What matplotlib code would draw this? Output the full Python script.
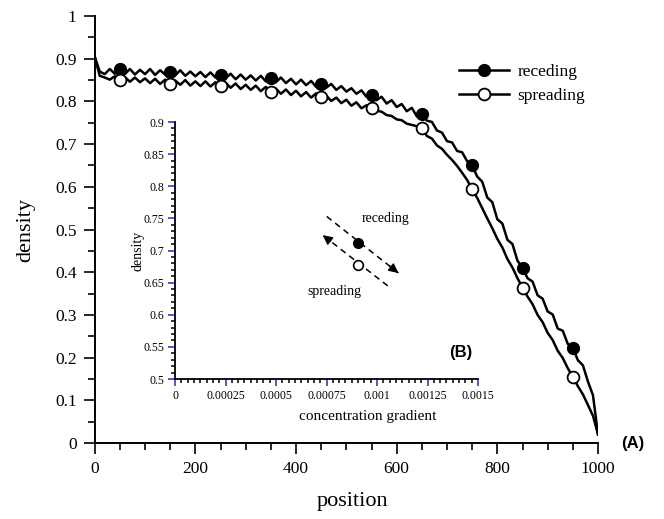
import numpy as np
import matplotlib
matplotlib.use("Agg")
import matplotlib.pyplot as plt
from matplotlib.ticker import MultipleLocator, FixedLocator

plt.rcParams['font.family'] = ['Liberation Serif', 'DejaVu Serif']

# main panel: density profiles, sampled every 10 position units
position = list(range(0, 1001, 10))

receding = [
    0.905, 0.870, 0.864, 0.876, 0.865, 0.875, 0.864, 0.876, 0.863, 0.874,
    0.864, 0.876, 0.862, 0.873, 0.863, 0.869, 0.861, 0.873, 0.860, 0.870,
    0.859, 0.869, 0.857, 0.868, 0.856, 0.862, 0.854, 0.865, 0.852, 0.863,
    0.851, 0.861, 0.849, 0.860, 0.847, 0.855, 0.845, 0.856, 0.843, 0.853,
    0.840, 0.851, 0.838, 0.848, 0.834, 0.841, 0.832, 0.841, 0.827, 0.836,
    0.823, 0.831, 0.818, 0.826, 0.811, 0.815, 0.803, 0.811, 0.795, 0.803,
    0.787, 0.794, 0.777, 0.785, 0.765, 0.771, 0.755, 0.752, 0.732, 0.727,
    0.707, 0.704, 0.684, 0.681, 0.660, 0.650, 0.624, 0.612, 0.575, 0.564,
    0.524, 0.514, 0.476, 0.466, 0.427, 0.410, 0.386, 0.378, 0.346, 0.338,
    0.308, 0.301, 0.268, 0.263, 0.232, 0.223, 0.194, 0.182, 0.144, 0.112,
    0.020,
]

spreading = [
    0.905, 0.860, 0.856, 0.851, 0.859, 0.850, 0.857, 0.846, 0.856, 0.845,
    0.854, 0.843, 0.853, 0.841, 0.851, 0.841, 0.849, 0.839, 0.850, 0.837,
    0.847, 0.836, 0.847, 0.835, 0.845, 0.836, 0.844, 0.832, 0.842, 0.829,
    0.839, 0.827, 0.837, 0.824, 0.834, 0.821, 0.830, 0.818, 0.828, 0.815,
    0.825, 0.812, 0.822, 0.809, 0.819, 0.810, 0.814, 0.801, 0.809, 0.796,
    0.804, 0.790, 0.798, 0.784, 0.791, 0.784, 0.778, 0.776, 0.768, 0.766,
    0.758, 0.756, 0.748, 0.745, 0.742, 0.738, 0.719, 0.713, 0.697, 0.689,
    0.675, 0.663, 0.649, 0.633, 0.616, 0.594, 0.574, 0.550, 0.526, 0.503,
    0.478, 0.458, 0.431, 0.411, 0.386, 0.364, 0.343, 0.325, 0.300, 0.283,
    0.258, 0.241, 0.216, 0.199, 0.175, 0.155, 0.133, 0.114, 0.089, 0.064,
    0.020,
]

# inset: one state point per branch plus the direction arrows
inset_grad = [0.000904, 0.000904]
inset_dens = [0.712, 0.677]
rec_arrow_x = [0.000751, 0.001106]
rec_arrow_y = [0.753, 0.665]
spr_arrow_x = [0.001053, 0.000731]
spr_arrow_y = [0.645, 0.724]


def main():
    fig = plt.figure(figsize=(6.64, 5.19), dpi=100)
    ax = fig.add_axes([0.1426, 0.1464, 0.758, 0.8227])

    marks = slice(5, 100, 10)
    ax.plot(position, receding, c='k', lw=1.8, marker='o', ms=8.5,
            mfc='k', mec='k', markevery=marks, label='receding')
    ax.plot(position, spreading, c='k', lw=1.8, marker='o', ms=8.5,
            mfc='white', mec='k', mew=1.3, markevery=marks, label='spreading')

    ax.set_xlim(0, 1000)
    ax.set_ylim(0, 1)
    ax.xaxis.set_major_locator(MultipleLocator(200))
    ax.xaxis.set_minor_locator(MultipleLocator(50))
    ax.yaxis.set_major_locator(MultipleLocator(0.1))
    ax.yaxis.set_minor_locator(MultipleLocator(0.05))
    ax.yaxis.set_major_formatter(plt.FuncFormatter(lambda v, p: f"{v:g}"))
    ax.tick_params(which='major', direction='out', length=8, width=1.2,
                   labelsize=12.5, pad=5)
    ax.tick_params(which='minor', direction='out', length=5, width=1.2)
    for s in ['top', 'right']:
        ax.spines[s].set_visible(False)
    for s in ['left', 'bottom']:
        ax.spines[s].set_linewidth(1.4)

    ax.set_xlabel("position", fontsize=16)
    ax.set_ylabel("density", fontsize=16)
    ax.xaxis.set_label_coords(0.512, -0.115)
    ax.yaxis.set_label_coords(-0.118, 0.5)

    ax.legend(loc='upper left', bbox_to_anchor=(0.723, 0.888), frameon=False,
              fontsize=12.5, handlelength=2.9, handletextpad=0.5,
              labelspacing=0.45, borderpad=0, borderaxespad=0)

    ax.text(1.07, 0.0, "(A)", transform=ax.transAxes, ha='center', va='center',
            fontsize=12, fontweight='bold', family='Liberation Sans')

    # inset (B)
    ins = fig.add_axes([0.2636, 0.2697, 0.4563, 0.4952])
    ins.set_xlim(0, 0.0015)
    ins.set_ylim(0.5, 0.9)
    ins.xaxis.set_major_locator(FixedLocator([0, 0.00025, 0.0005, 0.00075,
                                              0.001, 0.00125, 0.0015]))
    ins.xaxis.set_minor_locator(MultipleLocator(0.00003125))
    ins.yaxis.set_major_locator(MultipleLocator(0.05))
    ins.yaxis.set_minor_locator(MultipleLocator(0.01))
    ins.xaxis.set_major_formatter(plt.FuncFormatter(lambda v, p: f"{v:g}"))
    ins.yaxis.set_major_formatter(plt.FuncFormatter(lambda v, p: f"{v:g}"))
    ins.tick_params(which='major', direction='out', length=5, width=1.1,
                    labelsize=8.5, pad=3, color='#2a2ab0')
    ins.tick_params(which='minor', direction='out', length=3, width=1.1)
    for s in ['top', 'right']:
        ins.spines[s].set_visible(False)
    for s in ['left', 'bottom']:
        ins.spines[s].set_linewidth(1.3)
    ins.patch.set_alpha(0)

    ins.set_xlabel("concentration gradient", fontsize=11)
    ins.set_ylabel("density", fontsize=10)
    ins.xaxis.set_label_coords(0.637, -0.12)
    ins.yaxis.set_label_coords(-0.1, 0.5)

    ins.plot(rec_arrow_x, rec_arrow_y, c='k', lw=1.1, ls=(0, (4, 3)))
    ins.plot(spr_arrow_x, spr_arrow_y, c='k', lw=1.1, ls=(0, (4, 3)))
    for xs, ys in [(rec_arrow_x, rec_arrow_y), (spr_arrow_x, spr_arrow_y)]:
        ins.annotate("", xy=(xs[1], ys[1]),
                     xytext=(xs[1] - 0.12 * (xs[1] - xs[0]),
                             ys[1] - 0.12 * (ys[1] - ys[0])),
                     arrowprops=dict(arrowstyle='-|>', color='k', lw=1.1,
                                     mutation_scale=14, shrinkA=0, shrinkB=0))

    ins.plot(inset_grad[0], inset_dens[0], 'o', ms=7, mfc='k', mec='k')
    ins.plot(inset_grad[1], inset_dens[1], 'o', ms=7, mfc='white', mec='k',
             mew=1.2)
    ins.text(0.00104, 0.75, "receding", fontsize=10, ha='center', va='center')
    ins.text(0.00079, 0.636, "spreading", fontsize=10, ha='center', va='center')
    ins.text(0.00147, 0.542, "(B)", fontsize=12, fontweight='bold',
             family='Liberation Sans', ha='right', va='center')

    fig.savefig("out.png", dpi=100)


if __name__ == "__main__":
    main()
